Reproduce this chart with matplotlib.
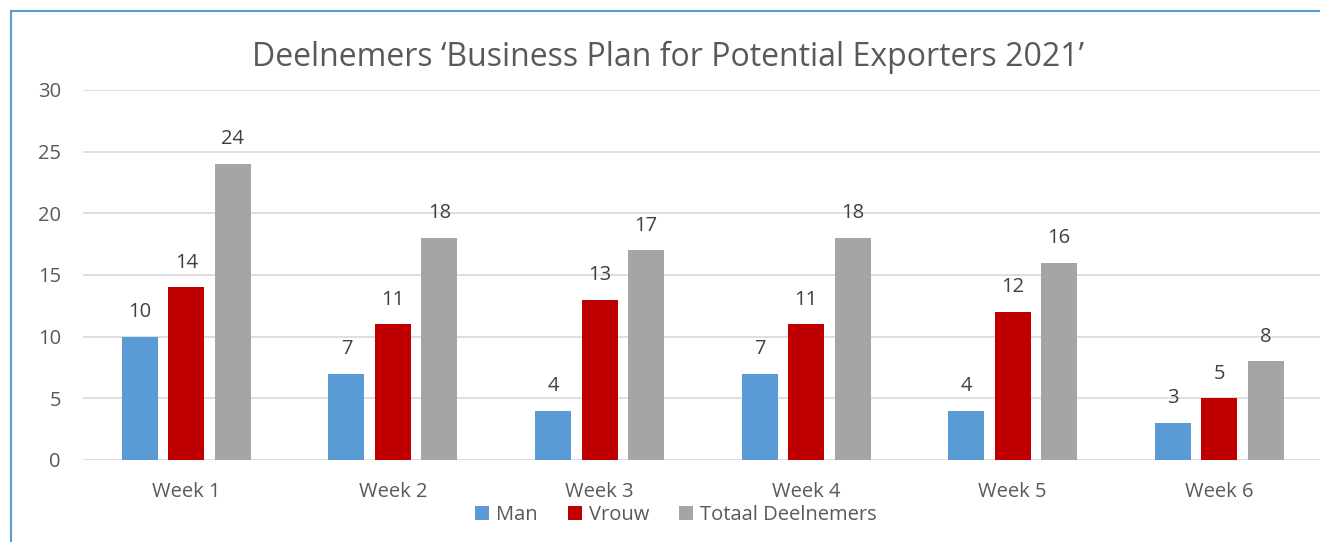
import matplotlib.pyplot as plt
import numpy as np
from matplotlib.lines import Line2D

plt.rcParams['font.family'] = ['Open Sans', 'DejaVu Sans']

weeks = ['Week 1', 'Week 2', 'Week 3', 'Week 4', 'Week 5', 'Week 6']
man = [10, 7, 4, 7, 4, 3]
vrouw = [14, 11, 13, 11, 12, 5]
totaal = [24, 18, 17, 18, 16, 8]
series = [('Man', man, '#5B9BD5'), ('Vrouw', vrouw, '#C00000'), ('Totaal Deelnemers', totaal, '#A5A5A5')]

txt = '#595959'
fig = plt.figure(figsize=(13.2, 5.42), dpi=100)
ax = fig.add_axes([0.0629, 0.1513, 0.9391, 0.6827])

x = np.arange(len(weeks))
w = 0.174
step = 0.225
for i, (name, vals, col) in enumerate(series):
    pos = x + (i - 1) * step
    bars = ax.bar(pos, vals, w, color=col, label=name, zorder=3)
    # waardelabels boven de staven
    for b, v in zip(bars, vals):
        ax.text(b.get_x() + b.get_width() / 2, v + 1.2, str(v), ha='center', va='bottom',
                fontsize=14.5, color='#404040')

ax.set_xlim(-0.5, 5.5)
ax.set_ylim(0, 30)
ax.set_yticks(range(0, 31, 5))
ax.set_xticks(x)
ax.set_xticklabels(weeks)
ax.grid(axis='y', color='#D9D9D9', linewidth=1.2, zorder=0)
for s in ax.spines.values():
    s.set_visible(False)
ax.tick_params(axis='both', length=0, labelsize=14.5, labelcolor=txt)
ax.tick_params(axis='x', pad=16)
ax.tick_params(axis='y', pad=16)
for lab in ax.get_yticklabels():
    lab.set_horizontalalignment('right')

fig.text(0.506, 0.895, 'Deelnemers \u2018Business Plan for Potential Exporters 2021\u2019',
         ha='center', va='center', fontsize=23, color=txt)

leg = fig.legend(loc='center', bbox_to_anchor=(0.512, 0.05), ncol=3, frameon=False,
                 fontsize=14.5, handlelength=0.7, handleheight=0.7, handletextpad=0.35,
                 columnspacing=1.5, labelcolor=txt)

# rand van het grafiekgebied (links en boven zichtbaar)
fig.add_artist(Line2D([0.0083, 0.0083], [0, 1 - 11 / 542], color='#5B9BD5', linewidth=1.5,
                      transform=fig.transFigure))
fig.add_artist(Line2D([0.0083, 1], [1 - 11 / 542, 1 - 11 / 542], color='#5B9BD5', linewidth=1.5,
                      transform=fig.transFigure))

fig.savefig('out.png', dpi=100)
